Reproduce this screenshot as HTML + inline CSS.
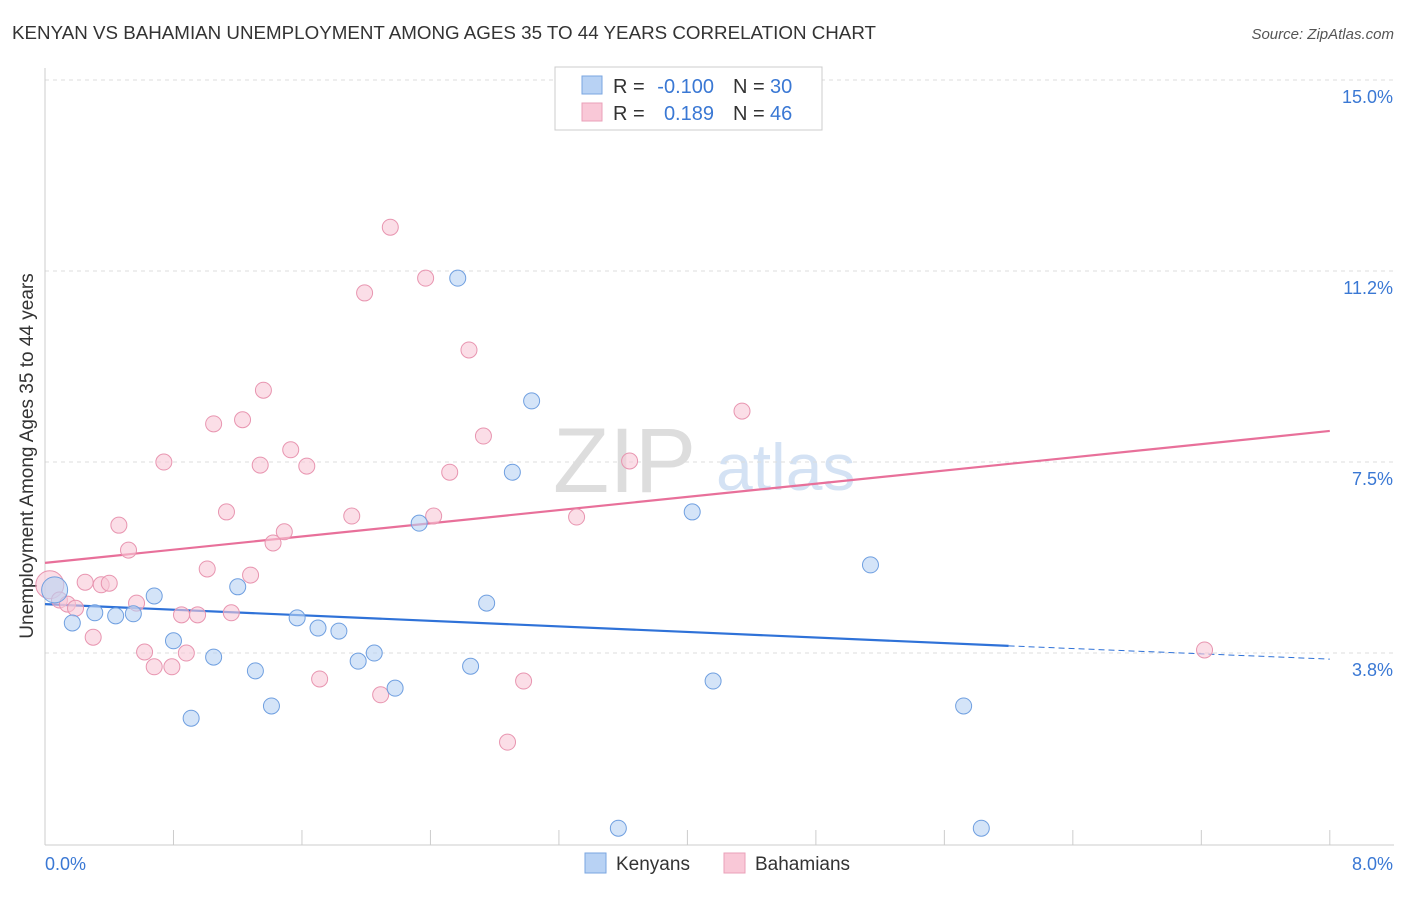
<!DOCTYPE html>
<html><head><meta charset="utf-8"><style>
body{margin:0;background:#fff;font-family:"Liberation Sans",sans-serif;}
svg text{font-family:"Liberation Sans",sans-serif;}
</style></head><body>
<svg id="chart" width="1406" height="892">
<text x="12" y="39" font-size="18.5" fill="#333" textLength="864" lengthAdjust="spacingAndGlyphs">KENYAN VS BAHAMIAN UNEMPLOYMENT AMONG AGES 35 TO 44 YEARS CORRELATION CHART</text>
<text x="1394" y="39" font-size="15" fill="#555" font-style="italic" text-anchor="end">Source: ZipAtlas.com</text>
<text x="33" y="456" font-size="19" fill="#333" text-anchor="middle" transform="rotate(-90 33 456)">Unemployment Among Ages 35 to 44 years</text>
<text x="553" y="492" font-size="92" fill="#ddd" font-family="Liberation Serif">ZIP</text>
<text x="716" y="490" font-size="66" fill="#d4e2f4">atlas</text>
<g id="grid"></g><g id="axes"></g><g id="lines"></g><g id="pts"></g>
<g>
<rect x="555" y="67" width="267" height="63" fill="#fff" stroke="#ccc"/>
<rect x="582" y="76" width="20" height="18" fill="#b8d2f4" stroke="#7aa6e0"/>
<rect x="582" y="103" width="20" height="18" fill="#f9c8d7" stroke="#eaa0b8"/>
<text x="613" y="93" font-size="20" fill="#333">R =</text>
<text x="714" y="93" font-size="20" fill="#3a78d4" text-anchor="end">-0.100</text>
<text x="733" y="93" font-size="20" fill="#333">N =</text>
<text x="770" y="93" font-size="20" fill="#3a78d4">30</text>
<text x="613" y="120" font-size="20" fill="#333">R =</text>
<text x="714" y="120" font-size="20" fill="#3a78d4" text-anchor="end">0.189</text>
<text x="733" y="120" font-size="20" fill="#333">N =</text>
<text x="770" y="120" font-size="20" fill="#3a78d4">46</text>
</g>
<g>
<rect x="585" y="853" width="21" height="20" fill="#b8d2f4" stroke="#7aa6e0"/>
<text x="616" y="870" font-size="19" fill="#333">Kenyans</text>
<rect x="724" y="853" width="21" height="20" fill="#f9c8d7" stroke="#eaa0b8"/>
<text x="755" y="870" font-size="19" fill="#333">Bahamians</text>
</g>
</svg>
<script>
const yTicks=[15,11.25,7.5,3.75];
const yTickLabels=["15.0%","11.2%","7.5%","3.8%"];
const xTickLabels=["0.0%","8.0%"];
const kenX=[0.06,0.17,0.31,0.44,0.55,0.68,0.80,0.91,1.05,1.20,1.31,1.41,1.57,1.70,1.83,1.95,2.05,2.18,2.33,2.57,2.65,2.75,2.91,3.03,3.57,4.03,4.16,5.14,5.72,5.83];
const kenY=[4.99,4.34,4.54,4.48,4.52,4.87,3.99,2.47,3.67,5.05,3.40,2.71,4.44,4.24,4.18,3.59,3.75,3.06,6.30,11.11,3.49,4.73,7.30,8.70,0.31,6.52,3.20,5.48,2.71,0.31];
const bahX=[0.03,0.09,0.14,0.19,0.25,0.30,0.35,0.40,0.46,0.52,0.57,0.62,0.68,0.74,0.79,0.85,0.88,0.95,1.01,1.05,1.13,1.16,1.23,1.28,1.34,1.36,1.42,1.49,1.53,1.63,1.71,1.91,1.99,2.09,2.15,2.37,2.42,2.52,2.64,2.73,2.88,2.98,3.31,3.64,4.34,7.22];
const bahY=[5.09,4.79,4.71,4.63,5.14,4.06,5.09,5.12,6.26,5.77,4.73,3.77,3.48,7.50,3.48,4.50,3.75,4.50,5.40,8.25,6.52,4.54,8.33,5.28,7.44,8.91,5.91,6.13,7.74,7.42,3.24,6.44,10.82,2.93,12.11,11.11,6.44,7.30,9.70,8.01,2.00,3.20,6.42,7.52,8.50,3.81];
const kenTrend=[4.71,3.89,3.63];
const bahTrend=[5.52,8.11];
const NS="http://www.w3.org/2000/svg";
const X=v=>45+v*160.6, Y=v=>844-v*50.93;
function mk(p,t,a){const e=document.createElementNS(NS,t);for(const k in a)e.setAttribute(k,a[k]);document.getElementById(p).appendChild(e);return e;}
yTicks.forEach((t,i)=>{
 const g=mk('grid','line',{x1:45,x2:1394,y1:Y(t),y2:Y(t),stroke:'#ddd','stroke-dasharray':'4,4'});
 
 
 const l=mk('grid','text',{x:1393,y:Y(t)+23,'font-size':18,fill:'#3a78d4','text-anchor':'end'});
 l.textContent=yTickLabels[i];
 
 
});
mk('axes','line',{x1:45,x2:45,y1:68,y2:845,stroke:'#ccc'});
mk('axes','line',{x1:45,x2:1394,y1:845,y2:845,stroke:'#ccc'});
for(let i=0;i<=10;i++){const t=mk('axes','line',{x1:X(i*0.8),x2:X(i*0.8),y1:830,y2:845,stroke:'#ccc'});
 
 }
const xl0=mk('axes','text',{x:45,y:870,'font-size':18,fill:'#3a78d4'});xl0.textContent=xTickLabels[0];


const xl1=mk('axes','text',{x:1393,y:870,'font-size':18,fill:'#3a78d4','text-anchor':'end'});xl1.textContent=xTickLabels[1];


function dot(x,y,r,f,s,n){const c=mk('pts','circle',{cx:X(x),cy:Y(y),r:r,fill:f,'fill-opacity':0.6,stroke:s,'stroke-width':1});
 
 }
bahX.forEach((x,i)=>dot(x,bahY[i],i==0?14:8,'#f9c8d7','#e895b0','bahamian-point'));
kenX.forEach((x,i)=>dot(x,kenY[i],i==0?13:8,'#b8d2f4','#6f9fe0','kenyan-point'));
const pl=mk('lines','line',{x1:X(0),y1:Y(bahTrend[0]),x2:X(8),y2:Y(bahTrend[1]),stroke:'#e8709a','stroke-width':2.2});


const bl=mk('lines','line',{x1:X(0),y1:Y(kenTrend[0]),x2:X(6),y2:Y(kenTrend[1]),stroke:'#2f72d8','stroke-width':2.2});


const bd=mk('lines','line',{x1:X(6),y1:Y(kenTrend[1]),x2:X(8),y2:Y(kenTrend[2]),stroke:'#2f72d8','stroke-width':1,'stroke-dasharray':'6,4'});


</script>
</body></html>
